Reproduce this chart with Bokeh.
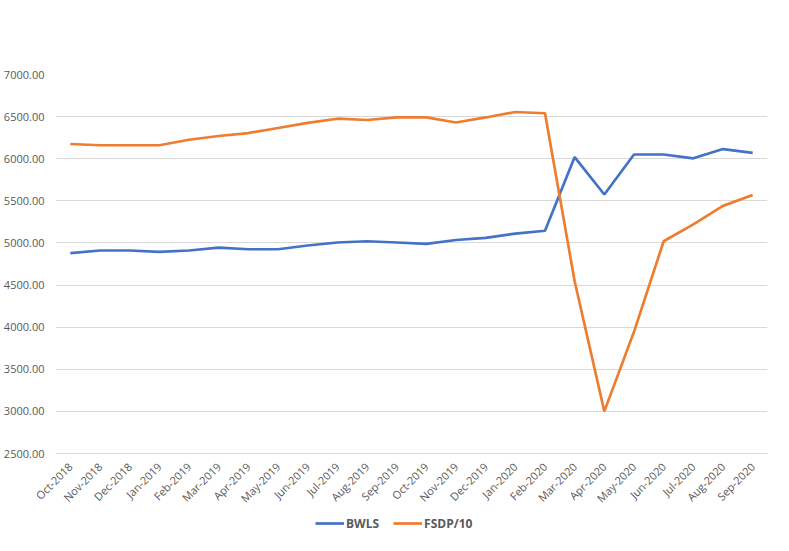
from bokeh.plotting import figure
from bokeh.layouts import column
from bokeh.models import Range1d, FactorRange, FixedTicker, NumeralTickFormatter, Legend, LegendItem
from bokeh.embed import file_html
from bokeh.resources import INLINE
import math

months = ["Oct-2018", "Nov-2018", "Dec-2018", "Jan-2019", "Feb-2019", "Mar-2019", "Apr-2019",
          "May-2019", "Jun-2019", "Jul-2019", "Aug-2019", "Sep-2019", "Oct-2019", "Nov-2019",
          "Dec-2019", "Jan-2020", "Feb-2020", "Mar-2020", "Apr-2020", "May-2020", "Jun-2020",
          "Jul-2020", "Aug-2020", "Sep-2020"]
bwls = [4880, 4910, 4910, 4895, 4910, 4945, 4925, 4925, 4970, 5005, 5020, 5005, 4990, 5035,
        5060, 5110, 5145, 6020, 5575, 6050, 6050, 6005, 6115, 6070]
fsdp10 = [6175, 6160, 6160, 6160, 6225, 6270, 6305, 6365, 6425, 6475, 6460, 6490, 6490, 6430,
          6490, 6555, 6540, 4545, 3000, 3945, 5020, 5220, 5440, 5570]
y_ticks = [2500, 3000, 3500, 4000, 4500, 5000, 5500, 6000, 6500, 7000]
series_names = ["BWLS", "FSDP/10"]
series_colors = ["#4472C4", "#ED7D31"]

FONT = "Open Sans"
GRAY = "#595959"
W = 780
MAIN_H = 513
LEG_H = 36

p = figure(width=W, height=MAIN_H, x_range=FactorRange(*months), y_range=Range1d(2500, 7000),
           output_backend="svg", toolbar_location=None,
           min_border_left=52, min_border_right=13, min_border_top=74,
           min_border_bottom=MAIN_H - 454)
p.outline_line_color = None
p.xgrid.grid_line_color = None
p.ygrid.grid_line_color = "#D9D9D9"
p.ygrid.grid_line_width = 1
p.yaxis.ticker = FixedTicker(ticks=y_ticks)
p.yaxis.formatter = NumeralTickFormatter(format="0.00")
p.yaxis.axis_line_color = None
p.yaxis.major_tick_line_color = None
p.yaxis.minor_tick_line_color = None
p.yaxis.major_tick_out = 0
p.yaxis.major_label_standoff = 11
p.xaxis.axis_line_color = "#D9D9D9"
p.xaxis.major_tick_line_color = None
p.xaxis.minor_tick_line_color = None
p.xaxis.major_tick_out = 0
p.xaxis.major_label_orientation = math.pi / 4
p.xaxis.major_label_standoff = 11
for ax in (p.xaxis, p.yaxis):
    ax.major_label_text_font = FONT
    ax.major_label_text_font_size = "11px"
    ax.major_label_text_color = GRAY

p.line(months, bwls, line_color=series_colors[0], line_width=2.7)
p.line(months, fsdp10, line_color=series_colors[1], line_width=2.7)

# legend strip below the chart
lg = figure(width=W, height=LEG_H, output_backend="svg", toolbar_location=None,
            x_range=Range1d(0, 1), y_range=Range1d(0, 1),
            x_axis_location=None, y_axis_location=None, min_border=0)
lg.outline_line_color = None
lg.grid.visible = False
items = []
nan = float("nan")
for name, col in zip(series_names, series_colors):
    r = lg.line(x=[nan, nan], y=[nan, nan], line_color=col, line_width=2.7)
    items.append(LegendItem(label=name, renderers=[r]))
legend = Legend(items=items, location=(260, LEG_H - 20), orientation="horizontal",
                border_line_color=None, background_fill_alpha=0,
                label_text_font=FONT, label_text_font_size="12px", label_text_font_style="bold",
                label_text_color=GRAY, glyph_width=29, label_standoff=2, spacing=14,
                padding=0, margin=0)
lg.add_layout(legend, "center")

layout = column(p, lg, spacing=0)
open("out.html", "w").write(file_html(layout, INLINE))
